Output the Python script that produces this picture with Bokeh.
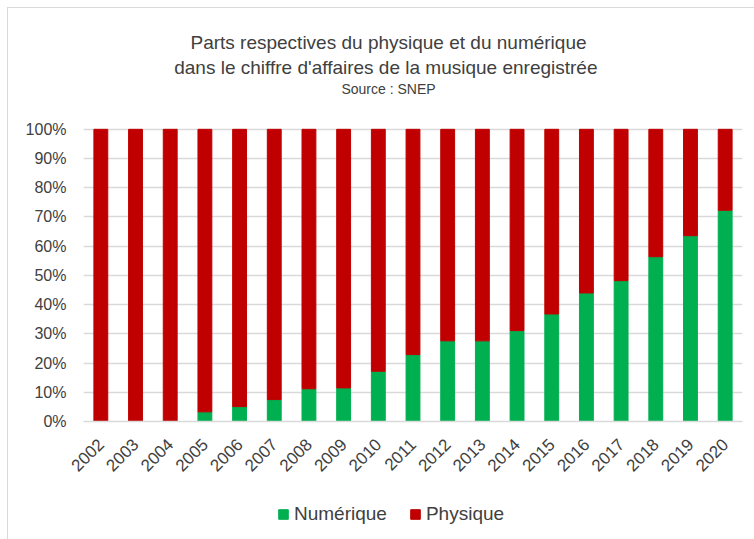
from math import pi
from bokeh.plotting import figure
from bokeh.layouts import column
from bokeh.models import (ColumnDataSource, Range1d, Legend, LegendItem, Label,
                          NumeralTickFormatter, FixedTicker)
from bokeh.embed import file_html
from bokeh.resources import INLINE

years = ["2002", "2003", "2004", "2005", "2006", "2007", "2008", "2009", "2010",
         "2011", "2012", "2013", "2014", "2015", "2016", "2017", "2018", "2019", "2020"]
numerique_pct = [0.0, 0.0, 0.0, 3.3, 5.1, 7.5, 11.2, 11.5, 17.2,
                 22.9, 27.6, 27.6, 31.1, 36.8, 44.0, 48.2, 56.4, 63.6, 72.3]
physique_pct = [100.0, 100.0, 100.0, 96.7, 94.9, 92.5, 88.8, 88.5, 82.8,
                77.1, 72.4, 72.4, 68.9, 63.2, 56.0, 51.8, 43.6, 36.4, 27.7]
y_ticks = [0.0, 0.1, 0.2, 0.3, 0.4, 0.5, 0.6, 0.7, 0.8, 0.9, 1.0]
series_names = ["Numérique", "Physique"]
series_colors = ["#00B050", "#C00000"]

title_1 = "Parts respectives du physique et du numérique"
title_2 = "dans le chiffre d'affaires  de la musique enregistrée"
title_3 = "Source : SNEP"

FONT = "Liberation Sans"
TXT = "#404040"
W = 746

src = ColumnDataSource(dict(
    year=years,
    num=[v / 100 for v in numerique_pct],
    phy=[v / 100 for v in physique_pct],
))


def blank(fig):
    fig.outline_line_color = None
    fig.background_fill_color = "white"
    fig.border_fill_color = "white"
    fig.xaxis.visible = False
    fig.yaxis.visible = False
    fig.grid.visible = False
    fig.title.visible = False


# ---- header (title); its frame is aligned with the chart frame (page x 83..742) ----
head = figure(width=W, height=100, x_range=Range1d(83, 742), y_range=Range1d(100, 0),
              output_backend="svg", toolbar_location=None,
              min_border=0, min_border_left=0, min_border_right=0,
              min_border_top=0, min_border_bottom=0)
blank(head)
for txt, yy, fs in [(title_1, 33.5, "19px"), (title_2, 58.5, "19px"), (title_3, 80, "14px")]:
    head.add_layout(Label(x=388, y=yy, text=txt, text_align="center",
                          text_baseline="alphabetic", text_font=FONT,
                          text_font_size=fs, text_color=TXT))

# ---- main chart ----
p = figure(x_range=years, y_range=Range1d(0, 1.02), width=W, height=387,
           output_backend="svg", toolbar_location=None,
           min_border_left=75, min_border_right=12,
           min_border_top=15, min_border_bottom=74)
p.title.visible = False
p.outline_line_color = None
p.background_fill_color = "white"
p.border_fill_color = "white"

rs = p.vbar_stack(["num", "phy"], x="year", width=0.4, source=src,
                  color=series_colors)

p.xgrid.visible = False
p.ygrid.grid_line_color = "#d9d9d9"
p.ygrid.grid_line_width = 1.5
p.ygrid.ticker = FixedTicker(ticks=y_ticks)

p.yaxis.ticker = FixedTicker(ticks=y_ticks)
p.yaxis.formatter = NumeralTickFormatter(format="0%")
p.yaxis.axis_line_color = None
p.yaxis.major_tick_line_color = None
p.yaxis.minor_tick_line_color = None
p.yaxis.major_label_text_font = FONT
p.yaxis.major_label_text_font_size = "16px"
p.yaxis.major_label_text_color = TXT
p.yaxis.major_label_standoff = 11

p.xaxis.axis_line_color = "#d9d9d9"
p.xaxis.axis_line_width = 1.5
p.xaxis.major_tick_line_color = None
p.xaxis.minor_tick_line_color = None
p.xaxis.major_label_orientation = pi / 4
p.xaxis.major_label_text_font = FONT
p.xaxis.major_label_text_font_size = "17px"
p.xaxis.major_label_text_color = TXT
p.xaxis.major_label_standoff = 14

# ---- legend strip ----
leg = figure(width=W, height=44, x_range=years, y_range=Range1d(10, 11),
             output_backend="svg", toolbar_location=None,
             min_border=0, min_border_left=0, min_border_right=0,
             min_border_top=0, min_border_bottom=0)
blank(leg)
lr = leg.vbar_stack(["num", "phy"], x="year", width=0.4, source=src,
                    color=series_colors)
legend = Legend(items=[LegendItem(label=series_names[0], renderers=[lr[0]]),
                       LegendItem(label=series_names[1], renderers=[lr[1]])],
                orientation="horizontal", location=(194, 14),
                glyph_width=12, glyph_height=12, label_standoff=5, spacing=22,
                padding=0, margin=0, border_line_color=None,
                background_fill_alpha=0,
                label_text_font=FONT, label_text_font_size="19px",
                label_text_color=TXT)
leg.add_layout(legend, "center")

layout = column(head, p, leg, spacing=0)
layout.styles = {"margin-left": "7px", "margin-top": "7px",
                 "border-left": "1px solid #d9d9d9", "border-top": "1px solid #d9d9d9"}

open("out.html", "w").write(file_html(layout, INLINE))
